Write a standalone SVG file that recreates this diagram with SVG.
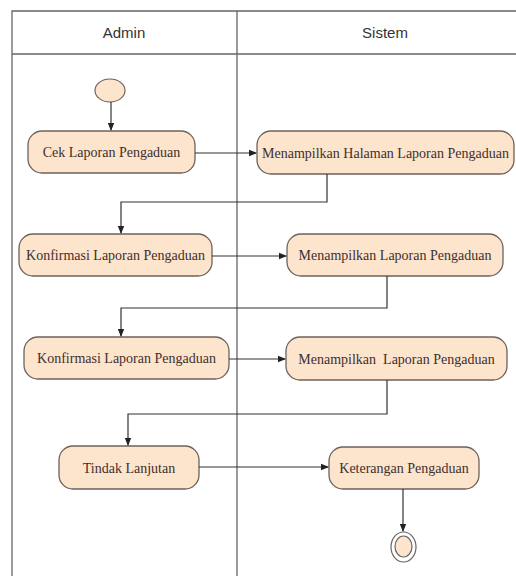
<svg xmlns="http://www.w3.org/2000/svg" width="516" height="576" viewBox="0 0 516 576">
<defs>
<marker id="ah" markerWidth="8" markerHeight="8" refX="7" refY="4" orient="auto" markerUnits="userSpaceOnUse">
<path d="M0,0.8 L8,4 L0,7.2 Z" fill="#222"/>
</marker>
</defs>
<style>
.lane{fill:none;stroke:#666;stroke-width:1.3}
.act{fill:#fde4cd;stroke:#6e625c;stroke-width:1.3}
.t{font-family:"Liberation Serif","Times New Roman",serif;font-size:14px;fill:#3e302c;text-anchor:middle;white-space:pre}
.h{font-family:"Liberation Sans",Arial,sans-serif;font-size:15px;fill:#333;text-anchor:middle}
.c{fill:none;stroke:#333;stroke-width:1.2;marker-end:url(#ah)}
</style>
<rect width="516" height="576" fill="#fff"/>
<g id="lanes">
<path class="lane" d="M12,576 V11 H516 M12,54 H516 M237,11 V576"/>
<text class="h" x="124" y="38">Admin</text>
<text class="h" x="385" y="38">Sistem</text>
</g>
<g id="start"><ellipse cx="110" cy="90.5" rx="15" ry="11.5" fill="#fde4cd" stroke="#6e625c" stroke-width="1.2"/></g>
<g id="cek"><rect class="act" x="28" y="131" width="167" height="42" rx="14"/><text class="t" x="111.5" y="157">Cek Laporan Pengaduan</text></g>
<g id="mhlp"><rect class="act" x="257" y="131" width="257" height="43" rx="14"/><text class="t" x="385.5" y="157.5">Menampilkan Halaman Laporan Pengaduan</text></g>
<g id="konf1"><rect class="act" x="19" y="234" width="193" height="42" rx="14"/><text class="t" x="115.5" y="260">Konfirmasi Laporan Pengaduan</text></g>
<g id="mlp1"><rect class="act" x="287" y="234" width="216" height="42" rx="14"/><text class="t" x="395" y="260">Menampilkan Laporan Pengaduan</text></g>
<g id="konf2"><rect class="act" x="24" y="337" width="205" height="42" rx="14"/><text class="t" x="126.5" y="363">Konfirmasi Laporan Pengaduan</text></g>
<g id="mlp2"><rect class="act" x="286" y="337" width="221" height="43" rx="14"/><text class="t" x="396.5" y="363.5">Menampilkan  Laporan Pengaduan</text></g>
<g id="tindak"><rect class="act" x="59" y="446" width="140" height="43" rx="14"/><text class="t" x="129" y="472.5">Tindak Lanjutan</text></g>
<g id="ket"><rect class="act" x="329" y="447" width="150" height="42" rx="14"/><text class="t" x="404" y="473">Keterangan Pengaduan</text></g>
<g id="end"><ellipse cx="403.5" cy="547" rx="12.5" ry="15" fill="#fff" stroke="#666" stroke-width="1.2"/><ellipse cx="403.5" cy="546.5" rx="8.5" ry="10.5" fill="#fde4cd" stroke="#666" stroke-width="1.2"/></g>
<g id="connectors">
<path class="c" d="M111,102 V130"/>
<path class="c" d="M195,153 H256"/>
<path class="c" d="M327,174 V202 H121 V233"/>
<path class="c" d="M212,256 H286"/>
<path class="c" d="M387,276 V308 H121 V336"/>
<path class="c" d="M229,359 H285"/>
<path class="c" d="M387,380 V414 H128 V445"/>
<path class="c" d="M199,467 H328"/>
<path class="c" d="M403,489 V531"/>
</g>
</svg>
